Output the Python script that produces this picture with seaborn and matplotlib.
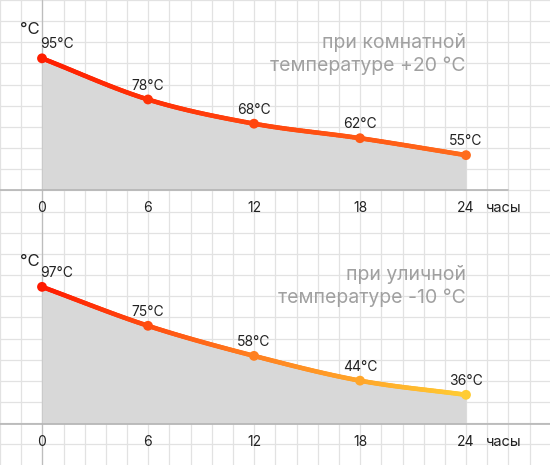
import numpy as np
import pandas as pd
import seaborn as sns
import matplotlib
matplotlib.use("Agg")
import matplotlib.pyplot as plt
from matplotlib.collections import LineCollection
from matplotlib.colors import LinearSegmentedColormap

# данные
hours = [0, 6, 12, 18, 24]
room_temps = [95, 78, 68, 62, 55]
street_temps = [97, 75, 58, 44, 36]
room_title = ["при комнатной", "температуре +20 °C"]
street_title = ["при уличной", "температуре -10 °C"]
x_label = "часы"
y_label = "°C"

sns.set_style("white")
plt.rcParams["font.family"] = ["Inter", "DejaVu Sans"]

W, H = 550, 465
GRID = 21.2
fig = plt.figure(figsize=(W / 100, H / 100), dpi=100)

# фон в клетку на всю картинку
bg = fig.add_axes([0, 0, 1, 1], zorder=0)
bg.set_xlim(0, W)
bg.set_ylim(H, 0)
bg.set_xticks(np.arange(42 - 2 * GRID, W, GRID))
bg.set_yticks(np.arange(190 - 9 * GRID, H, GRID))
bg.grid(True, color="#e2e2e2", linewidth=0.9)
bg.tick_params(length=0, labelbottom=False, labelleft=False)
for s in bg.spines.values():
    s.set_visible(False)
bg.axvline(42, color="#bdbdbd", linewidth=0.9)


def smooth(xs, ys, n=60):
    # catmull-rom только для отрисовки линии
    xs = np.asarray(xs, float)
    ys = np.asarray(ys, float)
    px = np.concatenate([[2 * xs[0] - xs[1]], xs, [2 * xs[-1] - xs[-2]]])
    py = np.concatenate([[2 * ys[0] - ys[1]], ys, [2 * ys[-1] - ys[-2]]])
    t = np.linspace(0, 1, n)[:, None]
    out_x, out_y = [], []
    for i in range(1, len(px) - 2):
        for arr, out in ((px, out_x), (py, out_y)):
            p0, p1, p2, p3 = arr[i - 1 : i + 3]
            v = 0.5 * ((2 * p1) + (-p0 + p2) * t + (2 * p0 - 5 * p1 + 4 * p2 - p3) * t**2
                       + (-p0 + 3 * p1 - 3 * p2 + p3) * t**3)
            out.append(v.ravel() if i == 1 else v.ravel()[1:])
    return np.concatenate(out_x), np.concatenate(out_y)


def panel(rect, ylim, temps, title, cmap, base_xmax, title_y):
    ax = fig.add_axes(rect, zorder=2)
    ax.patch.set_alpha(0)
    ax.set_xlim(0, 24)
    ax.set_ylim(*ylim)
    for s in ax.spines.values():
        s.set_visible(False)

    sx, sy = smooth(hours, temps)
    ax.fill_between(sx, sy, ylim[0], color="#d8d8d8", linewidth=0, zorder=1)

    pts = np.column_stack([sx, sy]).reshape(-1, 1, 2)
    segs = np.concatenate([pts[:-1], pts[1:]], axis=1)
    lc = LineCollection(segs, colors=cmap(sx[:-1] / 24), linewidth=3.3, capstyle="round",
                        zorder=3, clip_on=False)
    ax.add_collection(lc)

    df = pd.DataFrame({"h": hours, "t": temps})
    pal = {h: cmap(h / 24) for h in hours}
    sns.scatterplot(data=df, x="h", y="t", hue="h", palette=pal, s=50, linewidth=0,
                    legend=False, ax=ax, zorder=4, clip_on=False)

    for i, (h, t) in enumerate(zip(hours, temps)):
        ax.annotate(f"{t}°C", (h, t), xytext=(0 if i else -1, 10), textcoords="offset points",
                    ha="left" if i == 0 else "center", va="center", fontsize=10,
                    color="#222222")

    ax.axhline(ylim[0], xmin=-42 / 424, xmax=base_xmax, color="#b5b5b5", linewidth=1.2,
               clip_on=False, zorder=2)

    ax.set_xticks(hours)
    ax.set_yticks([])
    ax.tick_params(axis="x", length=0, pad=8, labelsize=10, labelcolor="#222222")
    ax.set_xlabel("")
    ax.set_ylabel("")
    ax.text(1.088, -18 / (rect[3] * H), x_label, transform=ax.transAxes, ha="center",
            va="center", fontsize=10.5, color="#222222")
    ax.text(-12 / 424, title_y[2], y_label, transform=ax.transAxes, ha="center",
            va="center", fontsize=12, color="#222222")
    ax.text(1.0, title_y[0], title[0], transform=ax.transAxes, ha="right", va="center",
            fontsize=14, color="#a0a0a0")
    ax.text(1.0, title_y[1], title[1], transform=ax.transAxes, ha="right", va="center",
            fontsize=14, color="#a0a0a0")
    return ax


room_cmap = LinearSegmentedColormap.from_list("room", ["#ff1e00", "#ff6c1c"])
street_cmap = LinearSegmentedColormap.from_list("street", ["#ff1a00", "#ff8020", "#ffcc33"])

# верхний: от 0 до 190 px, нижний: от 235 до 424 px
panel([42 / W, (H - 190) / H, 424 / W, 190 / H], (40.6, 119.1), room_temps, room_title,
      room_cmap, (508 - 42) / 424, ((190 - 43) / 190, (190 - 66) / 190, (190 - 29) / 190))
panel([42 / W, (H - 424) / H, 424 / W, 189 / H], (19.5, 126.3), street_temps, street_title,
      street_cmap, (W - 42) / 424, ((424 - 275) / 189, (424 - 298) / 189, (424 - 262) / 189))

fig.savefig("out.png", dpi=100)
